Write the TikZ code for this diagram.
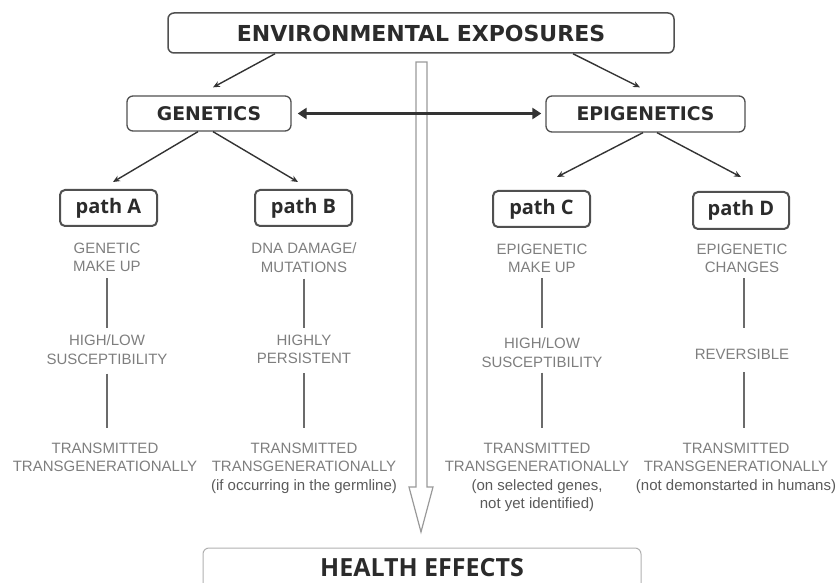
\documentclass[tikz,border=0pt]{standalone}
\usepackage{fontspec}
\setmainfont{Liberation Sans}
\newfontfamily\hdrfont{DejaVu Sans}
\newfontfamily\pathfont{Open Sans}
\usetikzlibrary{arrows.meta,calc}
\definecolor{darktext}{HTML}{2B2B2B}
\definecolor{boxline}{HTML}{505050}
\definecolor{greytext}{HTML}{7E7E7E}
\definecolor{partext}{HTML}{5A5A5A}
\definecolor{vlinecol}{HTML}{6B6B6B}
\definecolor{arrowcol}{HTML}{333333}
\definecolor{bigarrow}{HTML}{9A9A9A}
\definecolor{healthline}{HTML}{B0B0B0}
\tikzset{
  topbox/.style={draw=boxline, line width=1.5pt, rounded corners=6pt, fill=white,
    text=darktext, font=\hdrfont\bfseries\fontsize{22}{26}\selectfont, inner sep=0pt},
  midbox/.style={draw=boxline, line width=1.3pt, rounded corners=6pt, fill=white,
    text=darktext, font=\hdrfont\bfseries\fontsize{18.8}{22}\selectfont, inner sep=0pt},
  pathbox/.style={draw=boxline, line width=2pt, rounded corners=5pt, fill=white,
    text=darktext, font=\pathfont\bfseries\fontsize{20}{24}\selectfont, inner sep=0pt,
    minimum height=36pt},
  healthbox/.style={draw=healthline, line width=1pt, rounded corners=6pt,
    text=darktext, font=\pathfont\bfseries\fontsize{25}{30}\selectfont,
    inner xsep=0pt, inner ysep=4pt, text height=24pt, text depth=30pt},
  gtxt/.style={font=\fontsize{15}{18.5}\selectfont, text=greytext, align=center,
    inner sep=0pt, anchor=north},
  arr/.style={draw=arrowcol, line width=1.4pt, -{Stealth[length=7pt,width=6pt]}},
  dblarr/.style={draw=arrowcol, line width=2.6pt,
    {Triangle[length=9pt,width=11pt]}-{Triangle[length=9pt,width=11pt]}},
  vline/.style={draw=vlinecol, line width=1.6pt},
  hollow/.style={draw=bigarrow, line width=1.2pt, fill=white, line join=miter}
}
\begin{document}
\begin{tikzpicture}[x=1pt,y=-1pt]
\useasboundingbox (0,0) rectangle (839,583);
\clip (0,0) rectangle (839,583);

% big hollow arrow (drawn first, behind everything)
\coordinate (bigtop) at (421.5,62);
\coordinate (bigtip) at (421,532);
\draw[hollow] ($(bigtop)+(-5.5,0)$) -- ($(bigtop)+(5.5,0)$) -- ($(bigtip)+(6,-45)$)
  -- ($(bigtip)+(12,-45)$) -- (bigtip) -- ($(bigtip)+(-12,-45)$) -- ($(bigtip)+(-5,-45)$) -- cycle;

% boxes
\node[topbox, minimum width=506pt, minimum height=40pt] (env) at (421,33) {ENVIRONMENTAL EXPOSURES};
\node[midbox, minimum width=164pt, minimum height=35pt] (gen) at (209,113.5) {GENETICS};
\node[midbox, minimum width=199pt, minimum height=36pt] (epi) at (645.5,114) {EPIGENETICS};
\node[pathbox, minimum width=97pt] (pA) at (108.5,208) {path A};
\node[pathbox, minimum width=97pt] (pB) at (303.5,208) {path B};
\node[pathbox, minimum width=97pt] (pC) at (541.5,209) {path C};
\node[pathbox, minimum width=96pt, minimum height=37pt] (pD) at (741,210.5) {path D};
\node[healthbox, minimum width=438pt, anchor=base] (health) at (422,576) {HEALTH EFFECTS};

% arrows
\draw[arr] ([xshift=-146pt]env.south) -- ([xshift=4pt,yshift=8pt]gen.north);
\draw[arr] ([xshift=152pt]env.south) -- ([xshift=-5.5pt,yshift=8pt]epi.north);
\draw[arr] ([xshift=-11pt]gen.south) -- ([xshift=4.5pt,yshift=7pt]pA.north);
\draw[arr] ([xshift=4pt]gen.south) -- ([xshift=-5.5pt,yshift=7pt]pB.north);
\draw[arr] ([xshift=-2.5pt]epi.south) -- ([xshift=15.5pt,yshift=13pt]pC.north);
\draw[arr] ([xshift=11.5pt]epi.south) -- ([yshift=14pt]pD.north);
\draw[dblarr, shorten <=6pt, shorten >=4pt] (gen.east) -- (gen.east -| epi.west);

% grey texts
\node[gtxt] (gA1) at (107,242.6) {GENETIC\\MAKE UP};
\node[gtxt] (gA2) at (107,334.6) {HIGH/LOW\\SUSCEPTIBILITY};
\node[gtxt] (gA3) at (105,442.6) {TRANSMITTED\\TRANSGENERATIONALLY};
\node[gtxt] (gB1) at (304,242.6) {DNA DAMAGE/\\MUTATIONS};
\node[gtxt] (gB2) at (304,334.6) {HIGHLY\\PERSISTENT};
\node[gtxt] (gB3) at (304,442.6) {TRANSMITTED\\TRANSGENERATIONALLY\\\textcolor{partext}{(if occurring in the germline)}};
\node[gtxt] (gC1) at (542,243.6) {EPIGENETIC\\MAKE UP};
\node[gtxt] (gC2) at (542,337.6) {HIGH/LOW\\SUSCEPTIBILITY};
\node[gtxt] (gC3) at (537,442.6) {TRANSMITTED\\TRANSGENERATIONALLY\\\textcolor{partext}{(on selected genes,}\\\textcolor{partext}{not yet identified)}};
\node[gtxt] (gD1) at (742,243.6) {EPIGENETIC\\CHANGES};
\node[gtxt] (gD2) at (742,348.6) {REVERSIBLE};
\node[gtxt] (gD3) at (736,442.6) {TRANSMITTED\\TRANSGENERATIONALLY\\\textcolor{partext}{(not demonstarted in humans)}};

% vertical connectors
\draw[vline, shorten <=6.2pt, shorten >=6.6pt] (gA1.south) -- (gA1.south |- gA2.north);
\draw[vline, shorten <=9.2pt, shorten >=14.6pt] (gA2.south) -- (gA2.south |- gA3.north);
\draw[vline, shorten <=6.2pt, shorten >=6.6pt] (gB1.south) -- (gB1.south |- gB2.north);
\draw[vline, shorten <=9.2pt, shorten >=14.6pt] (gB2.south) -- (gB2.south |- gB3.north);
\draw[vline, shorten <=5.2pt, shorten >=9.6pt] (gC1.south) -- (gC1.south |- gC2.north);
\draw[vline, shorten <=5.2pt, shorten >=14.6pt] (gC2.south) -- (gC2.south |- gC3.north);
\draw[vline, shorten <=5.2pt, shorten >=20.6pt] ([xshift=2pt]gD1.south) -- ([xshift=2pt]gD1.south |- gD2.north);
\draw[vline, shorten <=12.7pt, shorten >=14.6pt] ([xshift=2pt]gD2.south) -- ([xshift=2pt]gD2.south |- gD3.north);
\end{tikzpicture}
\end{document}
